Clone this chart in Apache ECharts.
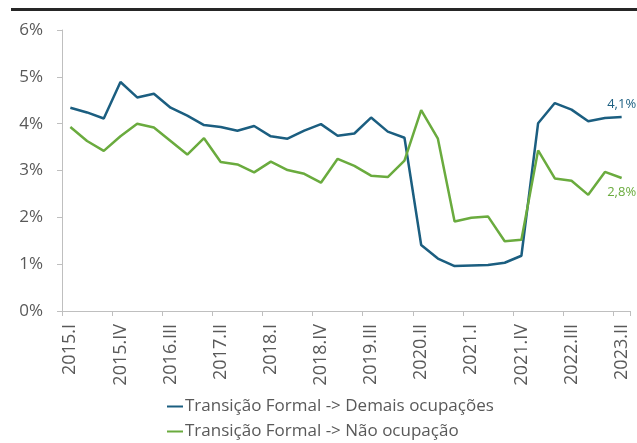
<!DOCTYPE html>
<html><head><meta charset="utf-8">
<script src="https://cdn.jsdelivr.net/npm/echarts@6/dist/echarts.min.js"></script>
<style>html,body{margin:0;padding:0;background:#fff}#c{width:637px;height:443px}</style>
</head><body><div id="c"></div>
<script>
const years = ['2015','2016','2017','2018','2019','2020','2021','2022','2023'];
const quarters = ['I','II','III','IV'];
const categories = [];
years.forEach(y => quarters.forEach(q => categories.push(y + '.' + q)));
categories.length = 34; // 2015.I .. 2023.II

const demais = [4.34,4.24,4.11,4.89,4.56,4.64,4.34,4.17,3.97,3.93,3.85,3.95,3.73,3.68,3.85,3.99,3.74,
  3.79,4.13,3.83,3.70,1.41,1.12,0.96,0.97,0.98,1.03,1.18,4.01,4.44,4.30,4.05,4.12,4.14];
const naoOcup = [3.93,3.63,3.42,3.73,4.00,3.92,3.63,3.34,3.69,3.18,3.13,2.96,3.19,3.01,2.93,2.74,3.25,
  3.10,2.89,2.86,3.21,4.29,3.68,1.91,1.99,2.02,1.49,1.52,3.43,2.83,2.78,2.48,2.97,2.84];
const seriesNames = ['Transição Formal -> Demais ocupações', 'Transição Formal -> Não ocupação'];

const blue = '#1b5e80', green = '#6aab3e', grey = '#595959', axisGrey = '#bfbfbf';
const font = 'Open Sans';

function lastLabel(arr, color, pos, dist) {
  return arr.map((v, i) => i === arr.length - 1 ? {
    value: v, symbolSize: 0,
    label: { show: true, position: pos, distance: dist, color: color, fontSize: 13, fontFamily: font,
      formatter: p => p.value.toFixed(1).replace('.', ',') + '%' }
  } : v);
}

const legendBase = {
  orient: 'vertical', left: 167, padding: 0,
  itemWidth: 16, itemHeight: 2, icon: 'rect',
  textStyle: { color: grey, fontSize: 17, fontFamily: font, padding: [0, 0, 0, -3] }
};

const chart = echarts.init(document.getElementById('c'));
chart.setOption({
  animation: false,
  textStyle: { fontFamily: font },
  graphic: [{ type: 'rect', shape: { x: 11, y: 8, width: 626, height: 3 }, style: { fill: '#262626' } }],
  grid: { left: 62, right: 7, top: 30, bottom: 132 },
  legend: [
    Object.assign({}, legendBase, { top: 398, data: [seriesNames[0]] }),
    Object.assign({}, legendBase, { top: 423, data: [seriesNames[1]] })
  ],
  xAxis: {
    type: 'category', data: categories, boundaryGap: true,
    axisLine: { lineStyle: { color: axisGrey, width: 1 } },
    axisTick: { show: true, interval: 2, length: 5, lineStyle: { color: axisGrey } },
    axisLabel: { interval: 2, rotate: 90, color: grey, fontSize: 18, margin: 13, fontFamily: font }
  },
  yAxis: {
    type: 'value', min: 0, max: 6, interval: 1,
    axisLine: { show: true, lineStyle: { color: axisGrey } },
    axisTick: { show: true, length: 5, lineStyle: { color: axisGrey } },
    splitLine: { show: false },
    axisLabel: { color: grey, fontSize: 17, margin: 19, fontFamily: font, formatter: v => v + '%' }
  },
  series: [
    { name: seriesNames[0], type: 'line', data: lastLabel(demais, blue, 'top', 6),
      symbol: 'circle', symbolSize: 0, showSymbol: true,
      lineStyle: { color: blue, width: 2.5 }, itemStyle: { color: blue } },
    { name: seriesNames[1], type: 'line', data: lastLabel(naoOcup, green, 'bottom', 8),
      symbol: 'circle', symbolSize: 0, showSymbol: true,
      lineStyle: { color: green, width: 2.5 }, itemStyle: { color: green } }
  ]
});
</script></body></html>
